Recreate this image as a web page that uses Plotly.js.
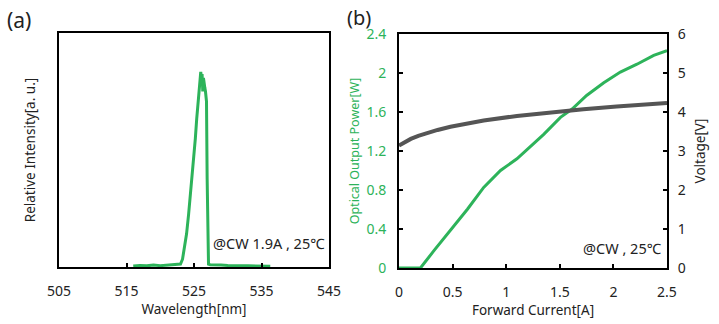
<!DOCTYPE html>
<html>
<head>
<meta charset="utf-8">
<script src="https://cdn.plot.ly/plotly-3.0.1.min.js"></script>
<style>html,body{margin:0;padding:0;background:#fff;}#chart{width:719px;height:324px;}</style>
</head>
<body>
<div id="chart"></div>
<script>
// Panel (a): emission spectrum
const wavelength = [516, 517, 518, 519, 520, 521, 522, 523, 523.3, 523.6, 523.9, 524.2, 524.5, 524.8, 525.0, 525.2, 525.4, 525.6, 525.8, 525.9, 526.0, 526.1, 526.2, 526.3, 526.4, 526.5, 526.6, 526.7, 526.85, 526.95, 527.05, 527.15, 527.4, 528, 529, 530, 531, 532, 533, 534, 535, 536.3];
const intensity = [0.005, 0.008, 0.006, 0.01, 0.007, 0.009, 0.012, 0.015, 0.04, 0.10, 0.17, 0.27, 0.38, 0.48, 0.58, 0.66, 0.76, 0.86, 0.93, 0.96, 1.0, 0.97, 0.99, 0.90, 0.97, 0.93, 0.92, 0.90, 0.85, 0.45, 0.05, 0.015, 0.012, 0.012, 0.01, 0.008, 0.009, 0.007, 0.006, 0.006, 0.005, 0.004];

// Panel (b): L-I-V
const currentP = [0, 0.20, 0.326, 0.48, 0.64, 0.79, 0.947, 1.10, 1.196, 1.35, 1.506, 1.615, 1.75, 1.91, 2.065, 2.22, 2.376, 2.5];
const power = [0, 0, 0.178, 0.383, 0.605, 0.827, 1.0, 1.12, 1.22, 1.37, 1.545, 1.63, 1.77, 1.90, 2.01, 2.09, 2.18, 2.23];
const currentV = [0, 0.05, 0.11, 0.18, 0.26, 0.36, 0.48, 0.62, 0.79, 1.10, 1.41, 1.72, 2.03, 2.5];
const voltage = [3.14, 3.23, 3.31, 3.39, 3.46, 3.54, 3.62, 3.70, 3.78, 3.90, 3.99, 4.07, 4.14, 4.23];

const xTicksA = [505, 515, 525, 535, 545];
const xTicksB = [0, 0.5, 1, 1.5, 2, 2.5];
const yTicksP = [0, 0.4, 0.8, 1.2, 1.6, 2, 2.4];
const yTicksV = [0, 1, 2, 3, 4, 5, 6];

const GREEN = '#2db35a';
const GRAY = '#555555';
const FONT = 'Noto Sans, Open Sans, sans-serif';

const traces = [
  {x: wavelength, y: intensity, xaxis: 'x', yaxis: 'y', type: 'scatter', mode: 'lines',
   line: {color: GREEN, width: 3}, hoverinfo: 'skip'},
  {x: currentV, y: voltage, xaxis: 'x2', yaxis: 'y3', type: 'scatter', mode: 'lines',
   line: {color: GRAY, width: 4}, hoverinfo: 'skip'},
  {x: currentP, y: power, xaxis: 'x2', yaxis: 'y2', type: 'scatter', mode: 'lines',
   line: {color: GREEN, width: 3}, hoverinfo: 'skip'}
];

const axLine = {showline: true, linecolor: '#000', linewidth: 2, showgrid: false, zeroline: false};

const layout = {
  width: 719, height: 324,
  margin: {l: 0, r: 0, t: 0, b: 0},
  paper_bgcolor: '#fff', plot_bgcolor: '#fff',
  showlegend: false,
  font: {family: FONT, size: 14, color: '#222'},
  xaxis: Object.assign({}, axLine, {
    domain: [59/719, 329/719], range: [505, 545], mirror: true,
    tickmode: 'array', tickvals: xTicksA, ticktext: xTicksA.map(String),
    ticks: 'inside', ticklen: 4, tickwidth: 2, tickcolor: '#000',
    ticklabelstandoff: 10,
    tickfont: {size: 14, color: '#222'},
    title: {text: 'Wavelength[nm]', font: {size: 13.5, color: '#222'}, standoff: 3},
    anchor: 'y', fixedrange: true
  }),
  yaxis: Object.assign({}, axLine, {
    domain: [57/324, 291/324], range: [0, 1.2], mirror: true,
    showticklabels: false, ticks: '',
    title: {text: 'Relative Intensity[a. u.]', font: {size: 13.5, color: '#222'}, standoff: 18},
    anchor: 'x', fixedrange: true
  }),
  xaxis2: Object.assign({}, axLine, {
    domain: [399/719, 667/719], range: [0, 2.5], mirror: true,
    tickmode: 'array', tickvals: xTicksB, ticktext: xTicksB.map(String),
    ticks: 'inside', ticklen: 4, tickwidth: 2, tickcolor: '#000',
    ticklabelstandoff: 10,
    tickfont: {size: 14, color: '#222'},
    title: {text: 'Forward Current[A]', font: {size: 13.5, color: '#222'}, standoff: 3},
    anchor: 'y2', fixedrange: true
  }),
  yaxis2: Object.assign({}, axLine, {
    domain: [56/324, 290/324], range: [0, 2.4],
    tickmode: 'array', tickvals: yTicksP, ticktext: yTicksP.map(String),
    ticks: 'inside', ticklen: 4, tickwidth: 2, tickcolor: '#000',
    ticklabelstandoff: 8,
    tickfont: {size: 14, color: GREEN},
    title: {text: 'Optical Output Power[W]', font: {size: 12.5, color: GREEN}, standoff: 4},
    anchor: 'x2', fixedrange: true
  }),
  yaxis3: Object.assign({}, axLine, {
    overlaying: 'y2', side: 'right', range: [0, 6],
    tickmode: 'array', tickvals: yTicksV, ticktext: yTicksV.map(String),
    ticks: 'inside', ticklen: 4, tickwidth: 2, tickcolor: '#000',
    ticklabelstandoff: 6,
    tickfont: {size: 14, color: '#222'},
    title: {text: 'Voltage[V]', font: {size: 13.5, color: '#222'}, standoff: 11},
    anchor: 'x2', fixedrange: true
  }),
  annotations: [
    {text: '(a)', xref: 'paper', yref: 'paper', x: 5/719, y: 1 - 4/324, xanchor: 'left', yanchor: 'top',
     showarrow: false, font: {size: 21, color: '#222'}},
    {text: '(b)', xref: 'paper', yref: 'paper', x: 345/719, y: 1 - 2/324, xanchor: 'left', yanchor: 'top',
     showarrow: false, font: {size: 20, color: '#222'}},
    {text: '@CW 1.9A , 25℃', xref: 'x', yref: 'y', x: 545, y: 0.06, xanchor: 'right', yanchor: 'bottom',
     xshift: -2, showarrow: false, font: {size: 14.5, color: '#222'}},
    {text: '@CW , 25℃', xref: 'x2', yref: 'y2', x: 2.5, y: 0.08, xanchor: 'right', yanchor: 'bottom',
     xshift: -3, showarrow: false, font: {size: 14.5, color: '#222'}}
  ]
};

Plotly.newPlot('chart', traces, layout, {displayModeBar: false, staticPlot: true});
</script>
</body>
</html>
